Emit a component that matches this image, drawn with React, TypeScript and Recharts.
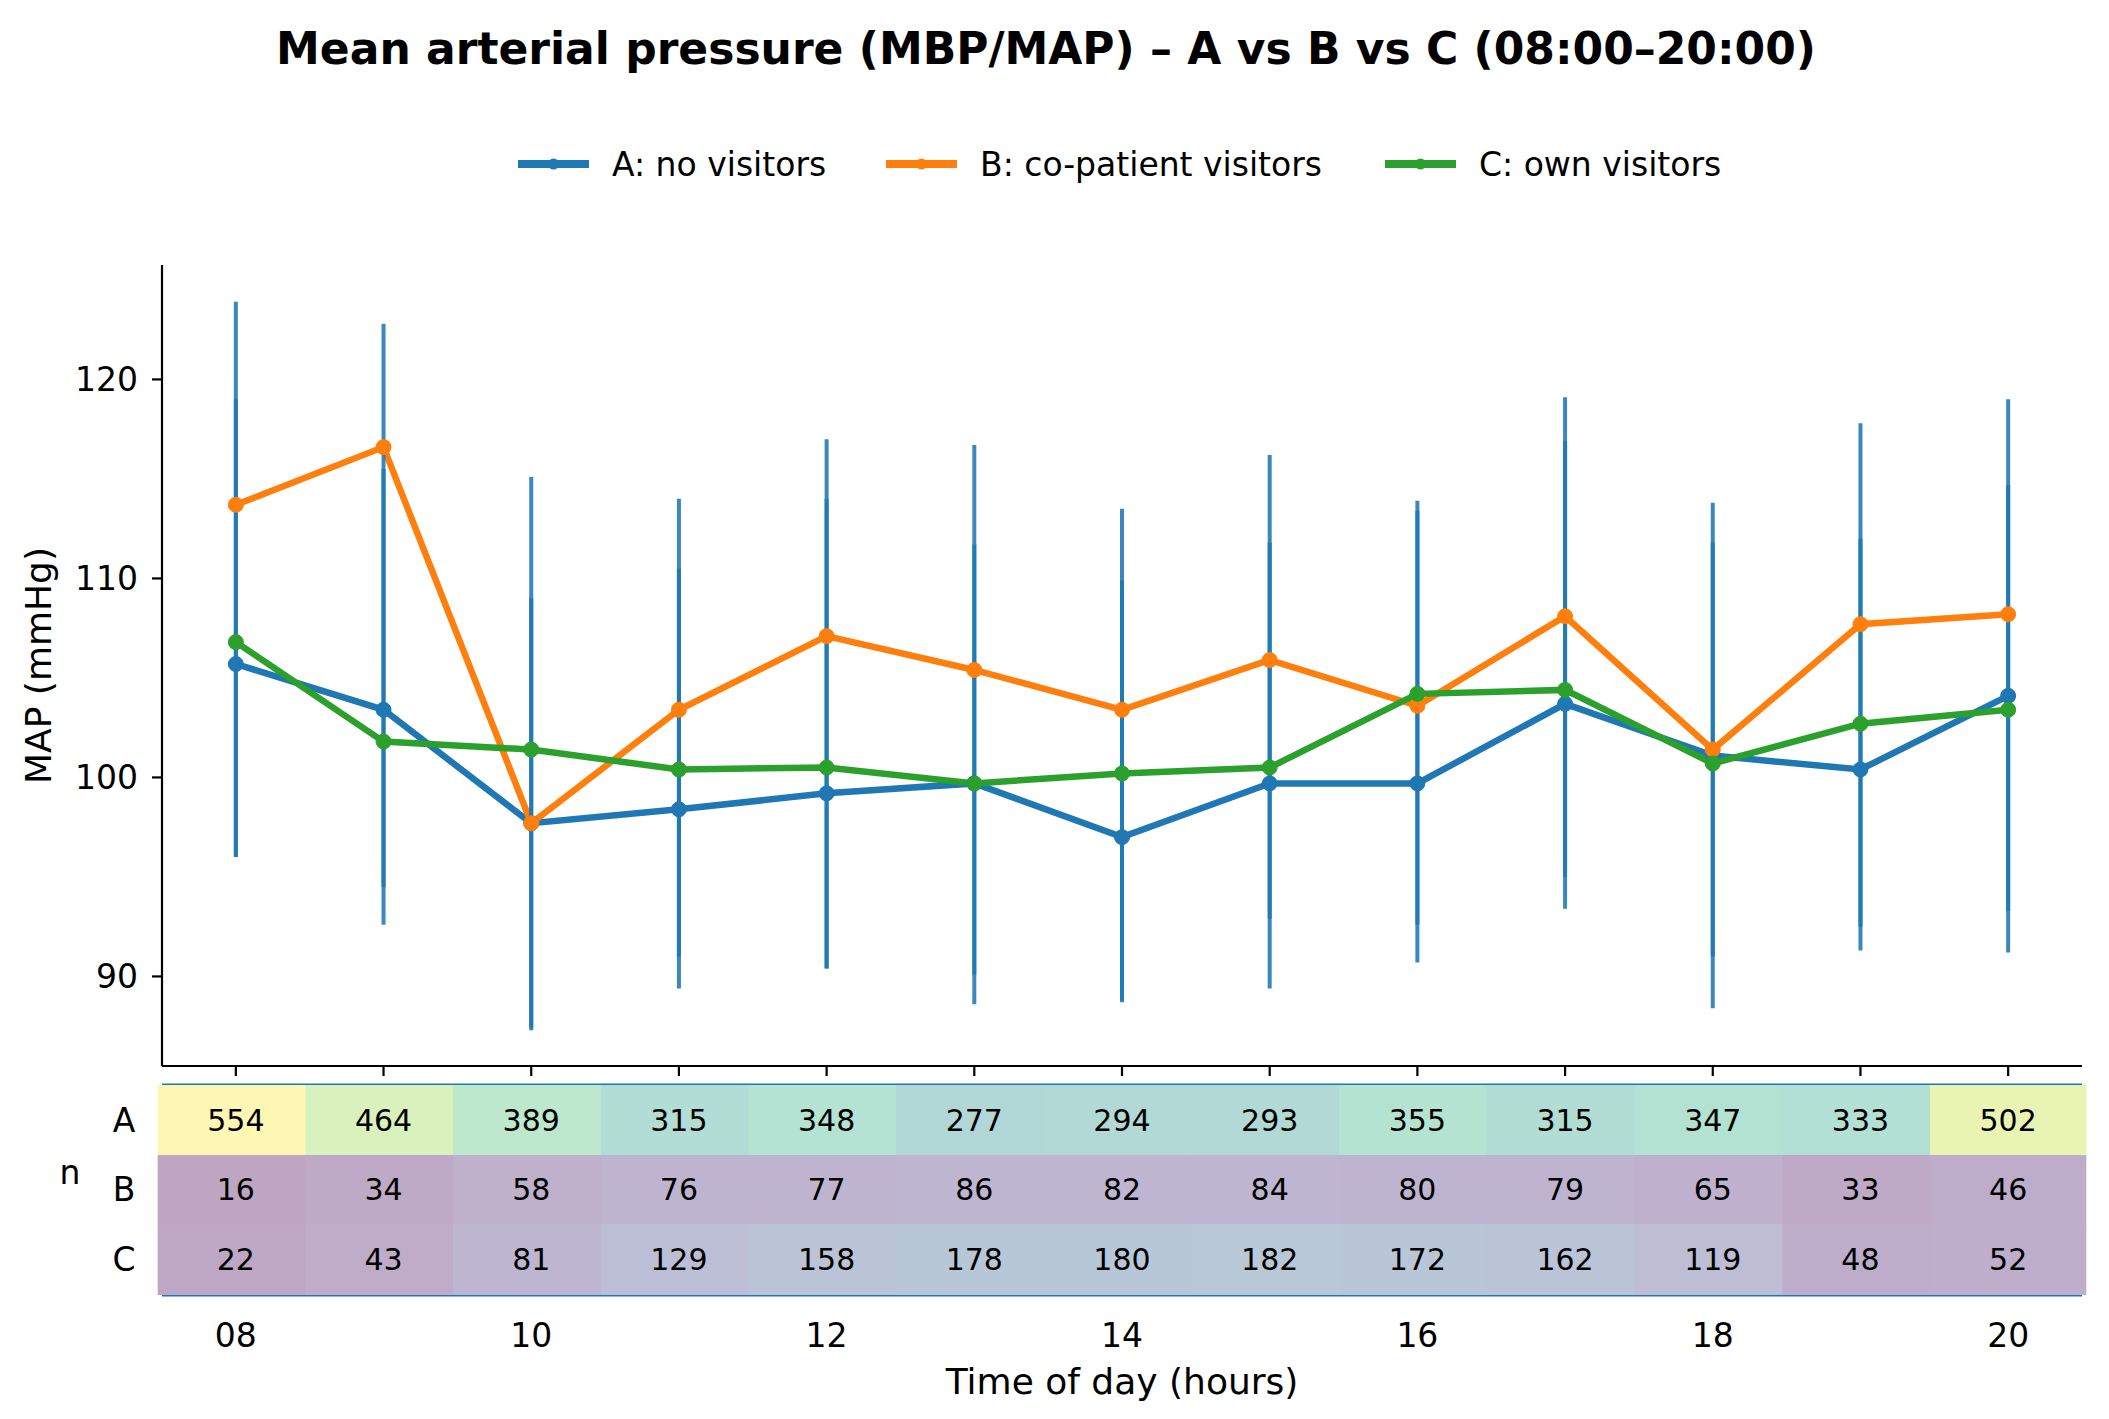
import React from 'react';
import { ComposedChart, Line, XAxis, YAxis, ErrorBar } from 'recharts';

const W = 2109;
const H = 1419;
const FONT = "'DejaVu Sans', sans-serif";
const BLUE = '#1f77b4';
const ORANGE = '#ff7f0e';
const GREEN = '#2ca02c';

// hours of the day shown on the x axis
const hours = [8, 9, 10, 11, 12, 13, 14, 15, 16, 17, 18, 19, 20];
const labelHours = [8, 10, 12, 14, 16, 18, 20];

// mean MAP per hour (mmHg)
const mapA = [105.7, 103.4, 97.7, 98.4, 99.2, 99.7, 97.0, 99.7, 99.7, 103.7, 101.1, 100.4, 104.1];
const mapB = [113.7, 116.6, 97.7, 103.4, 107.1, 105.4, 103.4, 105.9, 103.6, 108.1, 101.4, 107.7, 108.2];
const mapC = [106.8, 101.8, 101.4, 100.4, 100.5, 99.7, 100.2, 100.5, 104.2, 104.4, 100.7, 102.7, 103.4];

// spread bars: full range and the overlapping core range
const spreadLow = [96.0, 92.6, 87.3, 89.4, 90.4, 88.6, 88.7, 89.4, 90.7, 93.4, 88.4, 91.3, 91.2];
const spreadHigh = [123.9, 122.8, 115.1, 114.0, 117.0, 116.7, 113.5, 116.2, 113.9, 119.1, 113.8, 117.8, 119.0];
const coreLow = [96.0, 94.5, 87.4, 91.0, 90.4, 90.1, 88.8, 92.9, 92.6, 95.0, 91.0, 92.5, 93.3];
const coreHigh = [119.0, 115.5, 109.0, 110.5, 114.0, 111.7, 109.9, 111.8, 113.4, 116.9, 111.8, 112.0, 114.7];

// number of measurements per hour
const nA = [554, 464, 389, 315, 348, 277, 294, 293, 355, 315, 347, 333, 502];
const nB = [16, 34, 58, 76, 77, 86, 82, 84, 80, 79, 65, 33, 46];
const nC = [22, 43, 81, 129, 158, 178, 180, 182, 172, 162, 119, 48, 52];

const rows = hours.map((h, i) => ({
  hour: h,
  a: mapA[i],
  b: mapB[i],
  c: mapC[i],
  spread: [mapA[i] - spreadLow[i], spreadHigh[i] - mapA[i]],
  core: [mapA[i] - coreLow[i], coreHigh[i] - mapA[i]],
}));

const MARGIN = { top: 265, right: 27, bottom: 0, left: 62 };
const PLOT_W = W - MARGIN.left - MARGIN.right;
const CELL_W = PLOT_W / hours.length;

// table layout below the plot, offsets from the x axis line
const TABLE_TOP = 19;
const ROW_H = [70, 69, 71];
const TABLE_BOTTOM = TABLE_TOP + ROW_H[0] + ROW_H[1] + ROW_H[2];
const counts = [nA, nB, nC];
const rowNames = ['A', 'B', 'C'];

const VIRIDIS = ['#440154', '#482475', '#414487', '#355f8d', '#2a788e', '#21918c', '#22a884', '#44bf70', '#7ad151', '#bddf26', '#fde725'];
const CELL_ALPHA = 0.35;

function hexRgb(hex: string) {
  const v = parseInt(hex.slice(1), 16);
  return [(v >> 16) & 255, (v >> 8) & 255, v & 255];
}

// viridis colour washed onto white, so neighbouring cells can overlap without seams
function cellColor(t: number) {
  const s = Math.max(0, Math.min(1, t)) * (VIRIDIS.length - 1);
  const i = Math.min(Math.floor(s), VIRIDIS.length - 2);
  const f = s - i;
  const a = hexRgb(VIRIDIS[i]);
  const b = hexRgb(VIRIDIS[i + 1]);
  const c = a.map((v, k) => {
    const mixed = v + (b[k] - v) * f;
    return Math.round(255 * (1 - CELL_ALPHA) + mixed * CELL_ALPHA);
  });
  return `rgb(${c[0]},${c[1]},${c[2]})`;
}

const allN = [...nA, ...nB, ...nC];
const nMin = Math.min(...allN);
const nMax = Math.max(...allN);

const pad2 = (h: number) => String(h).padStart(2, '0');

// one tick = tick mark, the column of counts and the hour label
const HourTick = (props: any) => {
  const { x, y, payload } = props;
  const i = hours.indexOf(payload.value);
  if (i < 0) return <g />;
  let top = y + TABLE_TOP;
  const cells = counts.map((arr, r) => {
    const v = arr[i];
    const h = ROW_H[r];
    const cy = top + h / 2;
    const el = (
      <g key={r}>
        <rect
          x={x - CELL_W / 2 - 0.5}
          y={top}
          width={CELL_W + 1}
          height={h + (r < 2 ? 0.5 : 0)}
          fill={cellColor((v - nMin) / (nMax - nMin))}
        />
        <text x={x} y={cy} textAnchor="middle" dominantBaseline="central" fontSize={30} fill="#000" fontFamily={FONT}>
          {v}
        </text>
      </g>
    );
    top += h;
    return el;
  });
  return (
    <g>
      <line x1={x} x2={x} y1={y} y2={y + 10} stroke="#000" strokeWidth={2.2} />
      {cells}
      {labelHours.includes(payload.value) && (
        <text x={x} y={y + TABLE_BOTTOM + 40} textAnchor="middle" dominantBaseline="central" fontSize={33} fill="#000" fontFamily={FONT}>
          {pad2(payload.value)}
        </text>
      )}
    </g>
  );
};

// row names, table rules and the axis title
const XDecor = (props: any) => {
  const { x, y, width } = props.viewBox;
  let top = y + TABLE_TOP;
  const names = rowNames.map((n, r) => {
    const cy = top + ROW_H[r] / 2;
    top += ROW_H[r];
    return (
      <text key={n} x={x - 38} y={cy} textAnchor="middle" dominantBaseline="central" fontSize={33} fill="#000" fontFamily={FONT}>
        {n}
      </text>
    );
  });
  const midB = y + TABLE_TOP + ROW_H[0] + ROW_H[1] / 2;
  return (
    <g>
      <line x1={x} x2={x + width} y1={y + TABLE_TOP} y2={y + TABLE_TOP} stroke={BLUE} strokeWidth={3} />
      <line x1={x} x2={x + width} y1={y + TABLE_BOTTOM} y2={y + TABLE_BOTTOM} stroke={BLUE} strokeWidth={3} />
      {names}
      <text x={x - 92} y={midB - 17} textAnchor="middle" dominantBaseline="central" fontSize={33} fill="#000" fontFamily={FONT}>
        n
      </text>
      <text x={x + width / 2} y={y + TABLE_BOTTOM + 86} textAnchor="middle" dominantBaseline="central" fontSize={36} fill="#000" fontFamily={FONT}>
        Time of day (hours)
      </text>
    </g>
  );
};

const YTitle = (props: any) => {
  const { x, y, height } = props.viewBox;
  const cx = x - 24;
  const cy = y + height / 2;
  return (
    <text x={cx} y={cy} transform={`rotate(-90 ${cx} ${cy})`} textAnchor="middle" dominantBaseline="central" fontSize={36} fill="#000" fontFamily={FONT}>
      MAP (mmHg)
    </text>
  );
};

const legendItems = [
  { label: 'A: no visitors', color: BLUE, x: 518 },
  { label: 'B: co-patient visitors', color: ORANGE, x: 886 },
  { label: 'C: own visitors', color: GREEN, x: 1385 },
];

export default function App() {
  return (
    <div style={{ position: 'absolute', left: 0, top: 0, width: W, height: H, background: '#fff', fontFamily: FONT }}>
      <ComposedChart width={W} height={H} data={rows} margin={MARGIN}>
        <XAxis
          dataKey="hour"
          type="number"
          domain={[7.5, 20.5]}
          allowDataOverflow
          ticks={hours}
          interval={0}
          tick={<HourTick />}
          tickSize={0}
          tickMargin={0}
          tickLine={false}
          axisLine={{ stroke: '#000', strokeWidth: 2.2 }}
          label={<XDecor />}
          height={353}
        />
        <YAxis
          type="number"
          domain={[85.5, 125.75]}
          allowDataOverflow
          ticks={[90, 100, 110, 120]}
          interval={0}
          width={100}
          tickSize={10}
          tickMargin={14}
          tickLine={{ stroke: '#000', strokeWidth: 2.2 }}
          axisLine={{ stroke: '#000', strokeWidth: 2.2 }}
          tick={{ fontSize: 33, fill: '#000', fontFamily: FONT }}
          label={<YTitle />}
        />
        <Line
          dataKey="a"
          stroke={BLUE}
          strokeWidth={6.5}
          dot={{ r: 7.5, fill: BLUE, stroke: BLUE, strokeWidth: 1 }}
          activeDot={false}
          isAnimationActive={false}
        />
        <Line
          dataKey="b"
          stroke={ORANGE}
          strokeWidth={6.5}
          dot={{ r: 7.5, fill: ORANGE, stroke: ORANGE, strokeWidth: 1 }}
          activeDot={false}
          isAnimationActive={false}
        />
        <Line
          dataKey="c"
          stroke={GREEN}
          strokeWidth={6.5}
          dot={{ r: 7.5, fill: GREEN, stroke: GREEN, strokeWidth: 1 }}
          activeDot={false}
          isAnimationActive={false}
        />
        {/* spread bars drawn above the lines */}
        <Line dataKey="a" stroke="none" dot={false} activeDot={false} legendType="none" isAnimationActive={false}>
          <ErrorBar dataKey="spread" direction="y" width={0} strokeWidth={4} stroke={BLUE} strokeOpacity={0.88} isAnimationActive={false} />
          <ErrorBar dataKey="core" direction="y" width={0} strokeWidth={4} stroke={BLUE} strokeOpacity={0.88} isAnimationActive={false} />
        </Line>
      </ComposedChart>
      <svg width={W} height={240} style={{ position: 'absolute', left: 0, top: 0, pointerEvents: 'none' }}>
        <text x={1046} y={48} textAnchor="middle" dominantBaseline="central" fontSize={44} fontWeight="bold" fill="#000" fontFamily={FONT}>
          Mean arterial pressure (MBP/MAP) – A vs B vs C (08:00–20:00)
        </text>
        {legendItems.map((it) => (
          <g key={it.label}>
            <line x1={it.x} x2={it.x + 71} y1={164} y2={164} stroke={it.color} strokeWidth={8} />
            <circle cx={it.x + 35.5} cy={164} r={5.5} fill={it.color} />
            <text x={it.x + 94} y={164} dominantBaseline="central" fontSize={33} fill="#000" fontFamily={FONT}>
              {it.label}
            </text>
          </g>
        ))}
      </svg>
    </div>
  );
}
